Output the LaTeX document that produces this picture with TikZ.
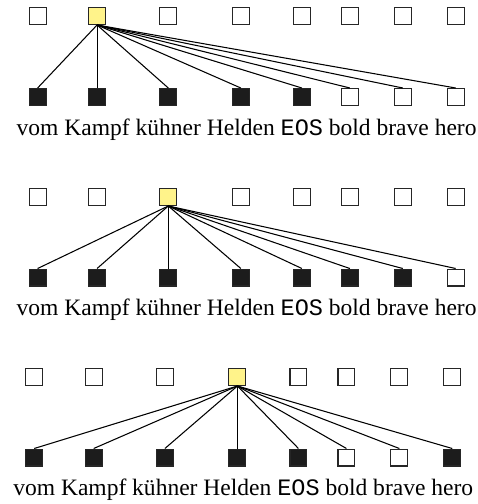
\documentclass[tikz,border=0pt]{standalone}
\usepackage{fontspec}
\setmainfont{Liberation Serif}
\setmonofont{Liberation Mono}
\usetikzlibrary{positioning}
\definecolor{headyellow}{HTML}{FFF38A}
\definecolor{tokenblack}{HTML}{1C1C1C}
\tikzset{
    %Define style for the words
    word/.style={
           inner sep=0pt,
           outer sep=0pt,
           font=\fontsize{10}{12}\selectfont},
    %Define style for boxes
    emptybox/.style={
           rectangle,
           draw=black!85, line width=0.45pt,
           minimum size=7.2pt,
           inner sep=0pt,
           fill=white},
    headbox/.style={
           emptybox,
           fill=headyellow},
    fullbox/.style={
           emptybox,
           fill=tokenblack},
    % Define line style
    dep/.style={
           -,
           line width=0.45pt,
           black}
}
\begin{document}
\begin{tikzpicture}[x=0.425pt,y=-0.425pt]
\useasboundingbox (0,0) rectangle (477,504);
% first sentence
\node[word, anchor=base west] (w1-1) at (16.7,136) {vom};
\foreach \w [count=\i from 2] in {Kampf,kühner,Helden,\texttt{EOS},bold,brave,hero}{
    \pgfmathtruncatemacro\j{\i-1}
    \node[word, base right=2.5pt of w1-\j] (w1-\i) {\w};
}
\coordinate (top1) at (0,16);
\coordinate (bot1) at (0,97);
\foreach \i/\s in {1/emptybox,2/headbox,3/emptybox,4/emptybox,5/emptybox,6/emptybox,7/emptybox,8/emptybox}
    \node[\s] (t1-\i) at (w1-\i |- top1) {};
\foreach \i/\s in {1/fullbox,2/fullbox,3/fullbox,4/fullbox,5/fullbox,6/emptybox,7/emptybox,8/emptybox}
    \node[\s] (b1-\i) at (w1-\i |- bot1) {};
\foreach \i in {1,...,8}
    \draw[dep] (t1-2.south) -- (b1-\i.north);
% second sentence
\node[word, anchor=base west] (w2-1) at (16.7,315) {vom};
\foreach \w [count=\i from 2] in {Kampf,kühner,Helden,\texttt{EOS},bold,brave,hero}{
    \pgfmathtruncatemacro\j{\i-1}
    \node[word, base right=2.5pt of w2-\j] (w2-\i) {\w};
}
\coordinate (top2) at (0,197);
\coordinate (bot2) at (0,277.5);
\foreach \i/\s in {1/emptybox,2/emptybox,3/headbox,4/emptybox,5/emptybox,6/emptybox,7/emptybox,8/emptybox}
    \node[\s] (t2-\i) at (w2-\i |- top2) {};
\foreach \i/\s in {1/fullbox,2/fullbox,3/fullbox,4/fullbox,5/fullbox,6/fullbox,7/fullbox,8/emptybox}
    \node[\s] (b2-\i) at (w2-\i |- bot2) {};
\foreach \i in {1,...,8}
    \draw[dep] (t2-3.south) -- (b2-\i.north);
% third sentence
\node[word, anchor=base west] (w3-1) at (13.3,495) {vom};
\foreach \w [count=\i from 2] in {Kampf,kühner,Helden,\texttt{EOS},bold,brave,hero}{
    \pgfmathtruncatemacro\j{\i-1}
    \node[word, base right=2.5pt of w3-\j] (w3-\i) {\w};
}
\coordinate (top3) at (0,377);
\coordinate (bot3) at (0,457.5);
\foreach \i/\s in {1/emptybox,2/emptybox,3/emptybox,4/headbox,5/emptybox,6/emptybox,7/emptybox,8/emptybox}
    \node[\s] (t3-\i) at (w3-\i |- top3) {};
\foreach \i/\s in {1/fullbox,2/fullbox,3/fullbox,4/fullbox,5/fullbox,6/emptybox,7/emptybox,8/fullbox}
    \node[\s] (b3-\i) at (w3-\i |- bot3) {};
\foreach \i in {1,...,8}
    \draw[dep] (t3-4.south) -- (b3-\i.north);
\end{tikzpicture}
\end{document}
